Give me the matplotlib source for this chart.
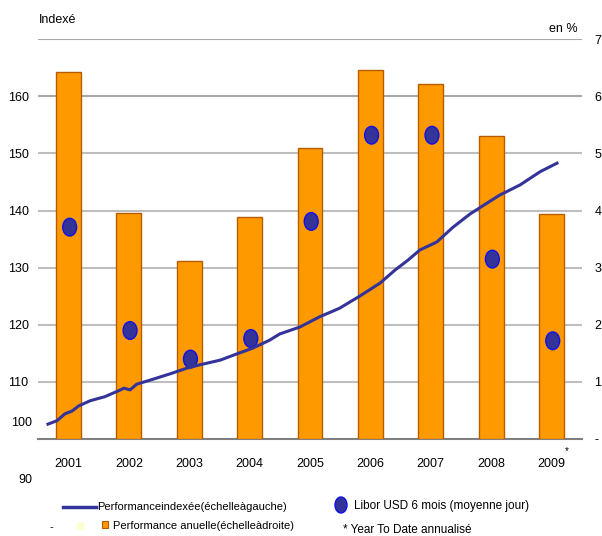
import numpy as np
import matplotlib.pyplot as plt
from matplotlib.patches import Ellipse, Rectangle

plt.rcParams['font.family'] = ['Liberation Sans', 'DejaVu Sans']

years = ['2001', '2002', '2003', '2004', '2005', '2006', '2007', '2008', '2009']
perf_annuelle = [6.43, 3.95, 3.12, 3.89, 5.10, 6.46, 6.22, 5.31, 3.94]
libor = [3.71, 1.90, 1.40, 1.76, 3.81, 5.32, 5.32, 3.15, 1.72]

# indexed performance, position along the category axis
idx_x = [-0.34, -0.19, -0.06, 0.06, 0.17, 0.36, 0.60, 0.82, 0.92, 1.02, 1.13,
         1.35, 1.68, 1.96, 2.18, 2.51, 2.84, 3.05, 3.33, 3.50, 3.83, 4.16,
         4.49, 4.82, 5.16, 5.41, 5.62, 5.82, 6.10, 6.37, 6.65, 6.93, 7.14,
         7.48, 7.81, 8.09]
idx_val = [102.6, 103.2, 104.4, 104.9, 105.8, 106.7, 107.4, 108.4, 108.9,
           108.6, 109.6, 110.3, 111.4, 112.4, 113.0, 113.8, 115.1, 115.9,
           117.3, 118.4, 119.6, 121.4, 122.9, 125.0, 127.3, 129.6, 131.3,
           133.1, 134.5, 137.1, 139.4, 141.3, 142.7, 144.5, 146.8, 148.3]

orange = '#FF9900'
navy = '#333399'

fig = plt.figure(figsize=(6.02, 5.36), dpi=100)
ax_l = fig.add_axes([0.0636, 0.181, 0.9027, 0.7457])
ax_r = ax_l.twinx()
ax_l.set_zorder(ax_r.get_zorder() + 1)
ax_l.patch.set_visible(False)

x = np.arange(len(years))
ax_r.bar(x, perf_annuelle, width=0.41, color=orange, edgecolor='#B85C00',
         linewidth=1.0, zorder=3)
for xi, v in zip(x, libor):
    ax_r.add_patch(Ellipse((xi + 0.02, v), 0.23, 0.31, facecolor=navy,
                           edgecolor='#1010EE', linewidth=1.0, zorder=4))
ax_r.set_ylim(0, 7)
ax_r.set_yticks(range(0, 8))
ax_r.set_yticklabels(['-'] + [str(i) for i in range(1, 8)], fontsize=9)
ax_r.tick_params(axis='y', length=0, pad=9)
for v in range(1, 8):
    ax_r.axhline(v, color='#BEBEBE' if v < 6 else '#A8A8A8', lw=1.5, zorder=1)

ax_l.plot(idx_x, idx_val, color=navy, lw=2.2, zorder=5)
ax_l.set_xlim(-0.5, 8.5)
ax_l.set_ylim(100, 170)
ax_l.set_yticks(range(110, 170, 10))
ax_l.set_yticklabels([str(v) for v in range(110, 170, 10)], fontsize=9)
ax_l.tick_params(axis='y', length=0, pad=7)
ax_l.set_xticks(x)
ax_l.set_xticklabels(years, fontsize=9)
ax_l.tick_params(axis='x', length=0, pad=14)

for a in (ax_l, ax_r):
    for s in a.spines.values():
        s.set_visible(False)
ax_r.spines['bottom'].set_visible(True)
ax_r.spines['bottom'].set_color('#808080')
ax_r.spines['bottom'].set_linewidth(1.5)

# left labels below 110 sit off the grid in the original
fig.text(32 / 602, 1 - 423 / 536, '100', fontsize=9, ha='right', va='center')
fig.text(32 / 602, 1 - 480 / 536, '90', fontsize=9, ha='right', va='center')
fig.text(567 / 602, 1 - 451 / 536, '*', fontsize=7, ha='center', va='center')

fig.text(39 / 602, 1 - 20 / 536, 'Indexé', fontsize=9, ha='left', va='center')
fig.text(578 / 602, 1 - 29 / 536, 'en %', fontsize=9, ha='right', va='center')

# legend
fig.lines.append(plt.Line2D([63 / 602, 96 / 602], [1 - 507 / 536] * 2,
                            color=navy, lw=2.5, transform=fig.transFigure))
fig.text(97 / 602, 1 - 507 / 536, 'Performanceindexée(échelleàgauche)',
         fontsize=8, ha='left', va='center')
fig.text(50 / 602, 1 - 527 / 536, '-', fontsize=8, ha='left', va='center')
fig.patches.append(Rectangle((77 / 602, 1 - 530 / 536), 7 / 602, 7 / 536,
                             facecolor='#FFFFCC', edgecolor='none',
                             transform=fig.transFigure))
fig.patches.append(Rectangle((102 / 602, 1 - 528 / 536), 6 / 602, 7 / 536,
                             facecolor=orange, edgecolor='#B85C00', lw=0.8,
                             transform=fig.transFigure))
fig.text(113 / 602, 1 - 526 / 536, 'Performance anuelle(échelleàdroite)',
         fontsize=8, ha='left', va='center')
fig.patches.append(Ellipse((341 / 602, 1 - 505 / 536), 12 / 602, 16 / 536,
                           facecolor=navy, edgecolor='#1010EE', lw=1.0,
                           transform=fig.transFigure))
fig.text(354 / 602, 1 - 506 / 536, 'Libor USD 6 mois (moyenne jour)',
         fontsize=8.5, ha='left', va='center')
fig.text(343 / 602, 1 - 530 / 536, '* Year To Date annualisé',
         fontsize=8.5, ha='left', va='center')

fig.savefig('out.png', dpi=100)
